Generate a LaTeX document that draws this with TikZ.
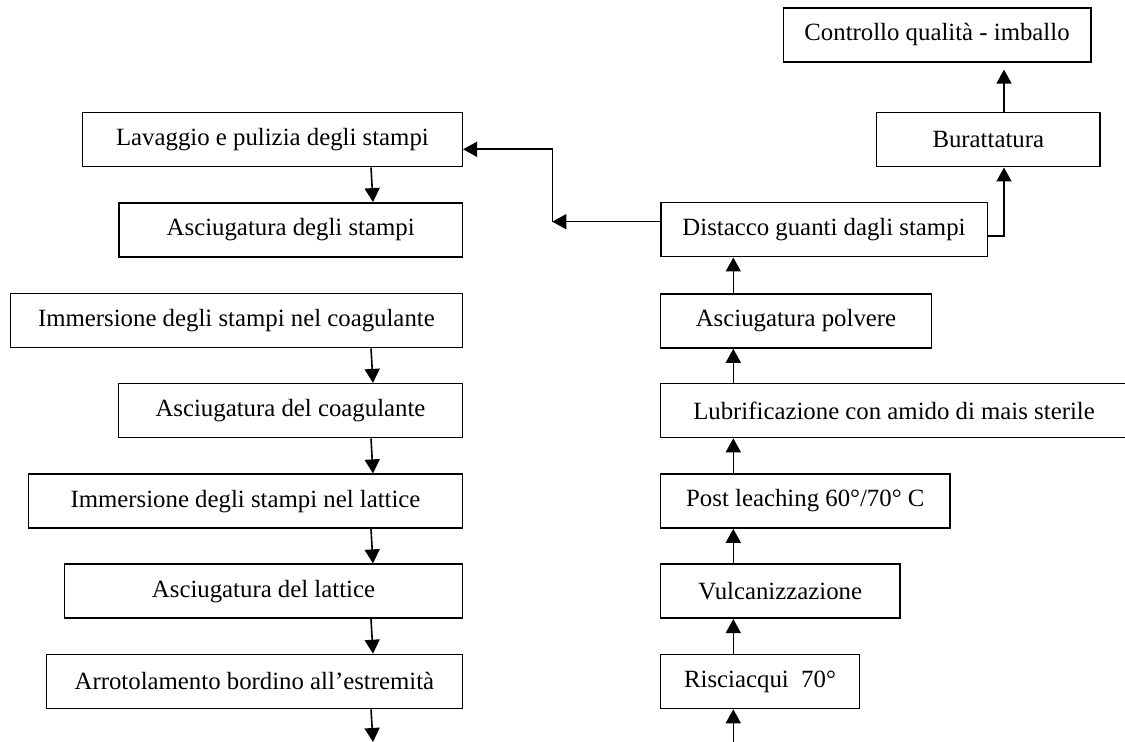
\documentclass[tikz,border=0pt]{standalone}
\usepackage{fontspec}
\setmainfont{Liberation Serif}
\usetikzlibrary{arrows.meta}

\begin{document}
\begin{tikzpicture}[x=0.5pt, y=-0.5pt, line width=0.8pt,
    box/.style={draw, minimum height=27pt, inner sep=0pt, font=\fontsize{12.4}{14}\selectfont},
    flow/.style={-{Triangle[length=7pt,width=7.5pt]}}]
    \path[use as bounding box, clip] (0,0) rectangle (1125,742);

    % Left column
    \node[box, minimum width=189.9pt] (l1) at (272.4,139.7) {Lavaggio e pulizia degli stampi};
    \node[box, minimum width=171.65pt] (l2) at (290.7,229.9) {Asciugatura degli stampi};
    \node[box, minimum width=225.9pt] (l3) at (236.4,320.7) {Immersione degli stampi nel coagulante};
    \node[box, minimum width=171.85pt] (l4) at (290.5,410.7) {Asciugatura del coagulante};
    \node[box, minimum width=216.85pt] (l5) at (245.5,501.2) {Immersione degli stampi nel lattice};
    \node[box, minimum width=198.85pt] (l6) at (263.5,591.2) {Asciugatura del lattice};
    \node[box, minimum width=207.95pt] (l7) at (254.4,681.5) {Arrotolamento bordino all’estremità};

    % Right column
    \node[box, minimum width=99.5pt] (r1) at (760,681.5) {Risciacqui\ \ 70°};
    \node[box, minimum width=119.65pt] (r2) at (780.2,591.3) {Vulcanizzazione};
    \node[box, minimum width=144.75pt] (r3) at (805.3,501) {Post leaching 60°/70° C};
    \node[box, minimum width=233.5pt] (r4) at (894,410.5) {Lubrificazione con amido di mais sterile};
    \node[box, minimum width=135.5pt] (r5) at (796,321) {Asciugatura polvere};
    \node[box, minimum width=163.3pt] (r6) at (824,229.7) {Distacco guanti dagli stampi};
    \node[box, minimum width=111.65pt] (r7) at (988.3,139.7) {Burattatura};
    \node[box, minimum width=153.7pt] (r8) at (937,34.8) {Controllo qualità - imballo};

    % Left arrows
    \coordinate (la) at (371,0);
    \coordinate (lb) at (373,0);
    \coordinate (lend) at (373,742);
    \foreach \a/\b in {l1/l2, l3/l4, l4/l5, l5/l6, l6/l7}
        \draw[flow] (la |- \a.south) -- (lb |- \b.north);
    \draw[flow] (la |- l7.south) -- (lend);

    % Right arrows
    \coordinate (rs) at (733.3,742);
    \draw[flow] (rs) -- (rs |- r1.south);
    \foreach \a/\b in {r1/r2, r2/r3, r3/r4, r4/r5, r5/r6}
        \draw[flow] (rs |- \a.north) -- (rs |- \b.south);

    % Up to the last steps
    \coordinate (k) at (1004,236);
    \draw[flow] (r6.east |- k) -- (k) -- (k |- r7.south);
    \draw[flow, shorten >=3.5pt] (k |- r7.north) -- (k |- r8.south);

    % Back to washing
    \coordinate (j1) at (552.3,221.7);
    \coordinate (j2) at (552.3,149.3);
    \draw[flow] (r6.west |- j1) -- (j1);
    \draw[flow] (j1) -- (j2) -- (j2 -| l1.east);
\end{tikzpicture}
\end{document}
